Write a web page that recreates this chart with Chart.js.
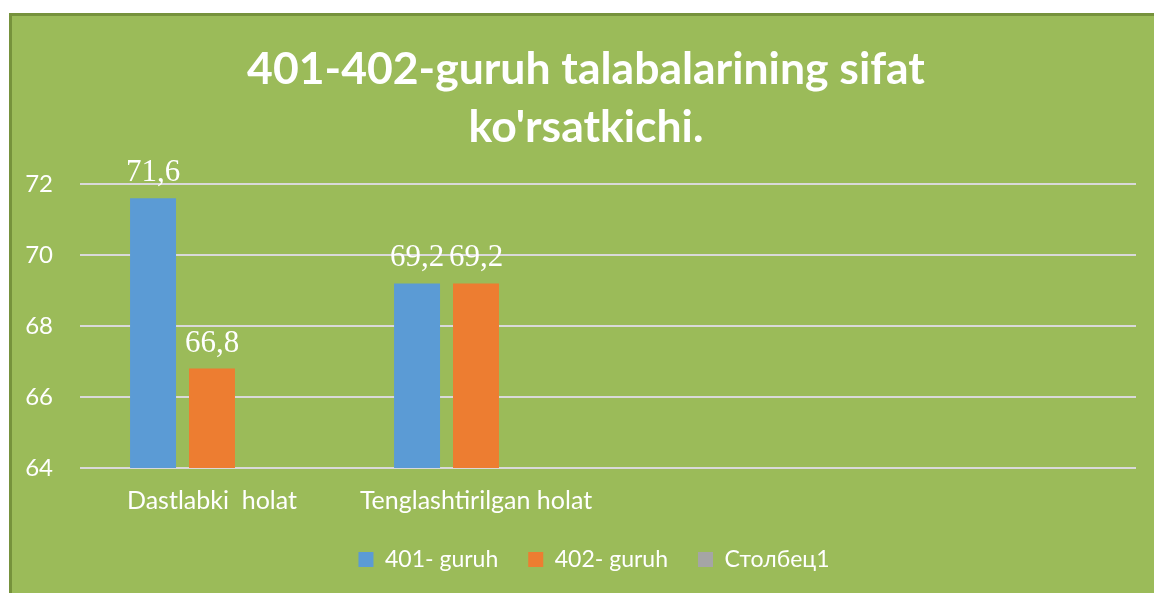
<!DOCTYPE html>
<html>
<head>
<meta charset="utf-8">
<script src="https://cdn.jsdelivr.net/npm/chart.js@4/dist/chart.umd.min.js"></script>
<style>
  html, body { margin: 0; padding: 0; background: #ffffff; }
  #frame {
    position: absolute; left: 9px; top: 13px; width: 1150px; height: 590px;
    background: #9BBB59; border-left: 3px solid #76923C; border-top: 3px solid #76923C;
  }
  #wrap { position: absolute; left: 0; top: 0; width: 1154px; height: 593px; }
</style>
</head>
<body>
<div id="frame"></div>
<div id="wrap"><canvas id="chart"></canvas></div>
<script>
var categories = ['Dastlabki  holat', 'Tenglashtirilgan holat', '', ''];
var group401 = [71.6, 69.2, null, null];
var group402 = [66.8, 69.2, null, null];
var column1 = [null, null, null, null];
var yTicks = [64, 66, 68, 70, 72];

var barLabels = {
    id: 'barLabels',
    afterDatasetsDraw: function (chart) {
        var ctx = chart.ctx;
        ctx.save();
        ctx.font = '31px "Liberation Serif", "Times New Roman", serif';
        ctx.fillStyle = '#ffffff';
        ctx.textAlign = 'center';
        ctx.textBaseline = 'alphabetic';
        chart.data.datasets.forEach(function (ds, i) {
            chart.getDatasetMeta(i).data.forEach(function (bar, j) {
                var v = ds.data[j];
                if (v === null || v === undefined) return;
                ctx.fillText(String(v).replace('.', ','), bar.x, bar.y - 17);
            });
        });
        ctx.restore();
    }
};

// title and legend sit a little right of the centre in the original
var blockShift = {
    id: 'blockShift',
    afterLayout: function (chart) {
        if (chart.titleBlock) {
            chart.titleBlock.left += 18;
            chart.titleBlock.right += 18;
        }
        if (chart.legend) {
            chart.legend.left += 26;
            chart.legend.right += 26;
            chart.legend.top -= 10;
            chart.legend.bottom -= 10;
        }
    }
};

document.addEventListener('DOMContentLoaded', function () {
    var font = 'Lato';
    new Chart(document.getElementById('chart'), {
        type: 'bar',
        data: {
            labels: categories,
            datasets: [
                { label: '401- guruh', data: group401, backgroundColor: '#5B9BD5' },
                { label: '402- guruh', data: group402, backgroundColor: '#ED7D31' },
                { label: 'Столбец1', data: column1, backgroundColor: '#A5A5A5' }
            ]
        },
        options: {
            responsive: true,
            maintainAspectRatio: false,
            animation: false,
            categoryPercentage: 0.67,
            barPercentage: 0.78,
            layout: { padding: { left: 0, right: 18, top: 0, bottom: 2 } },
            plugins: {
                title: {
                    display: true,
                    text: ['401-402-guruh talabalarining sifat', "ko'rsatkichi."],
                    color: '#ffffff',
                    font: { family: font, size: 44.5, weight: 'bold', lineHeight: '58px' },
                    padding: { top: 41, bottom: 27 }
                },
                legend: {
                    position: 'bottom',
                    labels: {
                        color: '#ffffff',
                        font: { family: font, size: 23 },
                        boxWidth: 15,
                        boxHeight: 15,
                        padding: 30
                    }
                },
                tooltip: { enabled: false }
            },
            scales: {
                x: {
                    grid: { display: false },
                    border: { display: false },
                    ticks: {
                        color: '#ffffff',
                        font: { family: font, size: 25 },
                        padding: 10,
                        maxRotation: 0,
                        autoSkip: false
                    },
                    afterFit: function (scale) { scale.height = 60; }
                },
                y: {
                    min: 64,
                    max: 72,
                    afterBuildTicks: function (scale) {
                        scale.ticks = yTicks.map(function (v) { return { value: v }; });
                    },
                    grid: { color: '#D9D9D9', lineWidth: 2, drawTicks: false },
                    border: { display: false },
                    ticks: {
                        color: '#ffffff',
                        font: { family: font, size: 24 },
                        padding: 27
                    },
                    afterFit: function (scale) { scale.width = 80; }
                }
            }
        },
        plugins: [barLabels, blockShift]
    });
});
</script>
</body>
</html>
